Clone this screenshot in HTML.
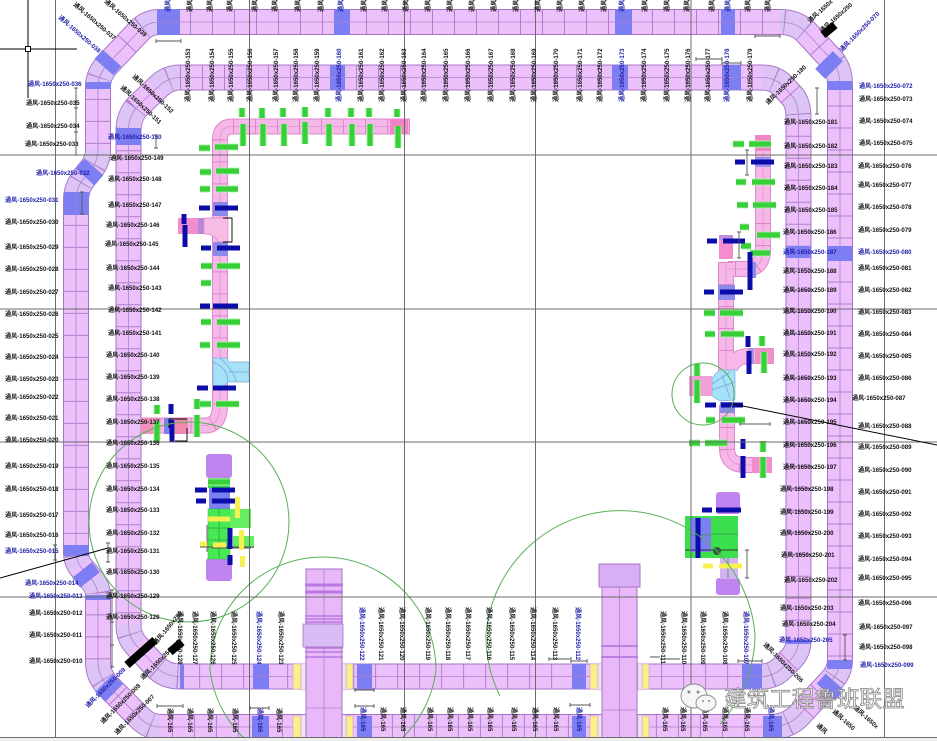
<!DOCTYPE html>
<html><head><meta charset="utf-8"><style>
html,body{margin:0;padding:0;background:#fff;width:937px;height:741px;overflow:hidden}
svg{display:block;filter:blur(.35px)}
text{font-family:"Liberation Sans","Noto Sans CJK SC",sans-serif;font-size:6.1px;fill:#111;font-weight:bold}
text.b,.b text{fill:#1c1ca8}
.o{fill:none;stroke:#a674c4;stroke-width:26}
.f{fill:none;stroke:#ecc0fa;stroke-width:24}
.l{fill:none;stroke:#dcc4f6;stroke-width:24}
.x{fill:none;stroke:#ad80cc;stroke-width:24;stroke-dasharray:1 21}
.c{fill:none;stroke:#b080cc;stroke-width:.8}
.po{fill:none;stroke:#dc88cc;stroke-width:16}
.pf{fill:none;stroke:#f6b8e8;stroke-width:14}
.px{fill:none;stroke:#e084c8;stroke-width:14;stroke-dasharray:1 21}
.pc{fill:none;stroke:#e090d0;stroke-width:.8}
.bl{fill:#7c7ef2}
.bd{fill:none;stroke:#7c7ef2;stroke-width:25}
.gg{fill:none;stroke:#b6f0b6;stroke-width:7}
.g{fill:none;stroke:#38d038;stroke-width:5.2}
.db{fill:none;stroke:#0c0ca8;stroke-width:5}
.y{fill:none;stroke:#f8f050;stroke-width:5}
.dim{fill:none;stroke:#555;stroke-width:.9}
.grid{fill:none;stroke:#6c6c6c;stroke-width:1}
.cir{fill:none;stroke:#58b058;stroke-width:1}
</style></head><body>
<svg width="937" height="741" viewBox="0 0 937 741" xmlns="http://www.w3.org/2000/svg">
<defs>
<path id="r1" d="M168 22L780 22Q796 22 806 32L830 58Q840 68 840 85L840 660Q840 672 830 682L802 712Q790 727 770 727L160 727Q148 727 138 716L108 686Q98 676 98 662L98 595Q98 588 92 580L80 566Q76 560 76 552L76 200Q76 188 84 178L92 168Q98 160 98 150L98 86Q98 76 106 66L140 30Q148 22 160 22Z"/>
<path id="r2" d="M180 77.5L762 77.5Q775 77.5 783 86L792 96Q798.5 103 798.5 118L798.5 640Q798.5 652 790 660L785 665Q775 676.5 762 676.5L180 676.5Q165 676.5 155 666L136 645Q128.5 637 128.5 625L128.5 130Q128.5 118 136 108L157 88Q167 77.5 180 77.5Z"/>
<path id="p1" d="M410 126.5L232 126.5Q220 126.5 220 140L220 405Q220 425.5 205 425.5L141 425.5"/>
<path id="p2" d="M178 226L214 226"/>
<path id="p3" d="M763 135L763 250Q763 269 745 269L728 269"/>
<path id="p4" d="M726 262L726 372"/>
<path id="p5" d="M774 356L750 356Q735 356 730 368"/>
<path id="p6" d="M727 405L727 448Q727 465 745 465L772 465"/>
<path id="gb" d="M242 108v9M262 108v10M283 108v9M305 107v10M328 108v9M351 108v9M369 108v9M397 109v8M243 124v22M263 124v22M284 124v22M305 122v22M329 124v22M352 124v22M370 124v22M398 126v22M199 148h11M215 147h23M200 172h11M216 171h23M200 189h10M216 189h22M201 266h11M217 266h23M201 283h10M217 322h23M201 322h10M217 345h23M200 345h10M200 404h11M216 404h23M197 399v10M197 415v22M157 405v9M157 421v21M733 144h11M749 144h22M736 182h10M752 182h23M737 205h11M753 205h23M740 227h9M757 235h23M741 246h10M750 253h20M704 313h11M720 313h23M705 334h10M721 334h23M762 336v10M764 352v21M697 364v12M697 380v23M706 420h9M722 420h23M689 443h11M705 443h22M763 441v11M763 457v21M208 482h22"/>
</defs>

<use href="#r1" class="o"/><use href="#r2" class="o"/>
<use href="#r1" class="f"/><use href="#r2" class="f"/>
<path class="l" d="M160 22Q148 22 140 30M106 66Q98 76 98 86M92 168Q98 160 98 150M76 200Q76 188 84 178M80 566Q76 560 76 552M98 595Q98 588 92 580M138 716Q148 727 160 727M108 686Q98 676 98 662M780 22Q796 22 806 32M830 58Q840 68 840 85M840 660Q840 672 830 682M802 712Q790 727 770 727"/>
<path class="l" d="M180 77.5Q167 77.5 157 88M136 108Q128.5 118 128.5 130M155 666Q165 676.5 180 676.5M136 645Q128.5 637 128.5 625M762 77.5Q775 77.5 783 86M792 96Q798.5 103 798.5 118M798.5 640Q798.5 652 790 660M785 665Q775 676.5 762 676.5"/>
<use href="#r1" class="x"/><use href="#r2" class="x"/>
<use href="#r1" class="c"/><use href="#r2" class="c"/>

<!-- blue duct sections -->
<g class="bl">
<rect x="157" y="9" width="23" height="26"/><rect x="334" y="9" width="16" height="26"/><rect x="615" y="9" width="17" height="26"/><rect x="721" y="9" width="14" height="26"/>
<rect x="330" y="65" width="15" height="25"/><rect x="612" y="65" width="16" height="25"/><rect x="722" y="65" width="19" height="25"/>
<rect x="64" y="192" width="25" height="23"/><rect x="64" y="545" width="25" height="11"/><rect x="86" y="82" width="25" height="7"/><rect x="116" y="128" width="25" height="17"/><rect x="86" y="595" width="25" height="5"/>
<rect x="827" y="246" width="25" height="15"/><rect x="827" y="81" width="25" height="9"/><rect x="786" y="246" width="25" height="12"/><rect x="827" y="660" width="25" height="9"/>
<rect x="786" y="640" width="25" height="4"/>
<rect x="180" y="664" width="4" height="25"/>
<rect x="357" y="664" width="15" height="25"/><rect x="572" y="664" width="14" height="25"/><rect x="742" y="664" width="20" height="25"/><rect x="253" y="664" width="16" height="25"/>
<rect x="357" y="716" width="15" height="24"/><rect x="572" y="716" width="14" height="24"/><rect x="763" y="716" width="19" height="24"/><rect x="252" y="716" width="17" height="24"/>
</g>
<path class="bd" d="M104 67L112 58M85 177L94 167M82 570L90 580M104 683L114 693M824 60L834 70"/>
<path class="bd" d="M826 692L835 682"/>
<path class="c" d="M157 22H180M334 22H350M615 22H632M721 22H735M330 77.5H345M612 77.5H628M722 77.5H741M76 192V215M357 676.5H372M572 676.5H586M742 676.5H762M253 676.5H269"/>

<!-- yellow sections -->
<path d="M293 664h8v25h-8zM346 664h7v25h-7zM590 664h8v25h-8zM642 664h7v25h-7zM293 716h8v24h-8zM346 716h7v24h-7zM590 716h8v24h-8zM642 716h7v24h-7z" fill="#fcee88" stroke="#c9a0d8" stroke-width=".6"/>
<path d="M301 663h5v27h-5zM342 663h4v27h-4zM598 663h4v27h-4zM638 663h4v27h-4zM301 715h5v25h-5zM342 715h4v25h-4zM598 715h4v25h-4zM638 715h4v25h-4z" fill="#efe4f4" stroke="#c9a0d8" stroke-width=".6"/>

<!-- vertical trunks -->
<rect x="306" y="569" width="36" height="171" fill="#e8b8f8" stroke="#a674c4"/>
<path d="M324 569V740M306 708H342" class="c"/>
<path d="M305 585H343M305 592H343" stroke="#b878e0" stroke-width="3" fill="none"/>
<path d="M305 616H343M305 619H343M305 622H343M305 648H343M305 652H343M305 657H343" stroke="#b878e0" stroke-width="1.6" fill="none"/>
<rect x="303" y="624" width="40" height="23" fill="#d8bcf4" stroke="#a674c4" stroke-width=".8"/>
<rect x="602" y="586" width="35" height="154" fill="#e8b8f8" stroke="#a674c4"/>
<path d="M619.5 586V740M602 710H637" class="c"/>
<path d="M601 646H638M601 657H638" stroke="#b878e0" stroke-width="1.8" fill="none"/>
<rect x="599" y="564" width="41" height="23" fill="#d8aef6" stroke="#a674c4"/>

<!-- left pink runs -->
<use href="#p1" class="po"/><use href="#p2" class="po"/>
<use href="#p1" class="pf"/><use href="#p2" class="pf"/>
<use href="#p1" class="px"/>
<use href="#p1" class="pc"/>
<rect x="390" y="119" width="18" height="15" fill="#f084c4"/>
<rect x="178" y="218" width="20" height="16" fill="#f48cd0"/>
<rect x="198" y="218" width="6" height="16" fill="#b888d8"/>
<path d="M204 218H228V242H218Q215 234 204 234Z" fill="#f8bce4" stroke="#dc88cc" stroke-width=".7"/>
<rect x="213" y="202" width="15" height="14" fill="#8a8ae8"/><rect x="213" y="242" width="15" height="14" fill="#8a8ae8"/>
<path d="M213 358H228V362H249V382H228L224 386H213Z" fill="#a4e2f8" stroke="#8aa8e0" stroke-width=".7"/>
<path d="M213 362Q228 368 228 382M220 358Q235 372 236 382M228 372H249" class="pc" style="stroke:#88a0e0"/>
<rect x="141" y="418" width="20" height="16" fill="#f490c0"/><rect x="164" y="418" width="9" height="16" fill="#7c7ef2"/><rect x="175" y="418" width="13" height="16" fill="#f088b0"/>
<path d="M169 419H187M169 419V428M175 441H187V428" fill="none" stroke="#000" stroke-width=".9"/>
<path d="M223 218h9v24h-9" fill="none" stroke="#000" stroke-width=".9"/>

<!-- right pink runs -->
<use href="#p3" class="po"/><use href="#p4" class="po"/><use href="#p5" class="po"/><use href="#p6" class="po"/>
<use href="#p3" class="pf"/><use href="#p4" class="pf"/><use href="#p5" class="pf"/><use href="#p6" class="pf"/>
<use href="#p3" class="px"/><use href="#p4" class="px"/><use href="#p6" class="px"/>
<use href="#p3" class="pc"/><use href="#p4" class="pc"/><use href="#p6" class="pc"/>
<rect x="755" y="135" width="16" height="16" fill="#ee88c4"/><rect x="755" y="157" width="16" height="10" fill="#9a92e8"/>
<rect x="719" y="236" width="14" height="23" fill="#f48cd0"/><rect x="719" y="235" width="14" height="5" fill="#c090e0"/>
<rect x="718" y="285" width="17" height="15" fill="#8a8ae8"/><rect x="748" y="262" width="8" height="16" fill="#8a8ae8"/>
<rect x="755" y="348" width="19" height="16" fill="#ee90c8"/><rect x="748" y="348" width="6" height="16" fill="#b090e0"/>
<path d="M719 370H735V400L720 401L712 396V378Z" fill="#a4e2f8" stroke="#8aa8e0" stroke-width=".7"/>
<path d="M712 384L730 372M712 390L735 382M722 375L730 398" class="pc" style="stroke:#88a0e0"/>
<rect x="689" y="376" width="23" height="20" fill="#f0a0d4"/>
<rect x="720" y="402" width="15" height="11" fill="#8a8ae8"/>
<rect x="752" y="457" width="20" height="16" fill="#f28ccc"/>

<!-- center-left block -->
<rect x="206" y="454" width="26" height="24" rx="3" fill="#c084f0"/><rect x="206" y="558" width="26" height="23" rx="3" fill="#c084f0"/>
<rect x="208" y="478" width="22" height="10" fill="#34dc44"/><rect x="209" y="488" width="21" height="21" fill="#7c7ef2"/>
<rect x="208" y="509" width="22" height="50" fill="#48ea54" stroke="#30b040" stroke-width=".5"/>
<rect x="230" y="509" width="21" height="19" fill="#64ee60"/><rect x="233" y="536" width="21" height="12" fill="#64ee60"/>
<path d="M208 528H230M219 509V558M208 540H230" class="pc" style="stroke:#30a040"/>
<path d="M200 547H254M207 525V552M212 548H251" class="dim"/>

<!-- right block -->
<rect x="716" y="492" width="24" height="22" rx="3" fill="#c084f0"/><rect x="716" y="578" width="24" height="17" rx="3" fill="#c084f0"/>
<rect x="720" y="557" width="18" height="22" fill="#d4b4f0"/>
<rect x="685" y="516" width="53" height="42" fill="#3ce04c"/>
<rect x="690" y="518" width="21" height="34" fill="#7c7ef2"/>
<path d="M711 534H738M690 535H711M700 518V552M728 557V578" class="pc" style="stroke:#389060"/>
<path d="M711 550H738M685 550H711" stroke="#333" stroke-width="1" fill="none"/>
<circle cx="717" cy="551" r="4" fill="#335a3a"/>

<!-- bars -->
<use href="#gb" class="gg"/><use href="#gb" class="g"/>
<path class="db" d="M199 208h11M215 208h23M201 248h10M217 248h23M200 306h10M213 306h25M197 388h11M213 388h23M171 404v10M172 420v22M184 214v10M185 225v22M195 490h12M212 490h23M196 501h10M212 501h23M230 528v21M230 555v10M735 162h10M751 162h23M707 241h10M723 241h22M750 252v38M704 292h10M720 292h23M748 336v11M749 351v23M705 405h11M721 405h22M743 439v10M743 456v22M702 510h10M716 510h25M698 518v40"/>
<path class="y" d="M208 519h22M237.500 497v21M200 544h7M213 545h13M241.500 530v20M242.500 556v11M719 566h23M703 566h10"/>
<path d="M127 665L155 640M170 652L182 642M823 35L835 25" stroke="#000" stroke-width="8" fill="none"/>

<!-- green circles -->
<circle class="cir" cx="189" cy="522" r="100"/>
<path class="cir" d="M210 670A113 113 0 0 1 436 670A113 113 0 0 1 400 740M246 740A113 113 0 0 1 210 670"/>
<path class="cir" d="M486 634A135 135 0 0 1 755 634A135 135 0 0 1 720 724M500 696A135 135 0 0 1 486 634"/>
<circle class="cir" cx="703" cy="394" r="31"/>

<!-- grid -->
<path class="grid" d="M55.500 0V740M249.500 0V740M404.500 0V740M535.500 0V740M691 0V740M884.500 0V740M0 155H937M0 309H937M0 442H937M0 597H937M0 737.500H937"/>
<rect x="0" y="738" width="937" height="3" fill="#eee"/>

<!-- crosshair and leader lines -->
<path d="M28 0V98M0 49H77" stroke="#000" stroke-width="1" fill="none"/><rect x="25.500" y="46.500" width="5" height="5" fill="#fff" stroke="#000"/>
<path d="M0 578L108 548M733 404L937 445" stroke="#000" stroke-width="1" fill="none"/>

<!-- dimensions -->
<path class="dim" d="M156 41H181M156 39v4M181 39v4M755 36H780M755 34v4M780 34v4M76 88V155M74 88h4M74 108h4M74 132h4M74 155h4M156 135V148M154 135h4M154 148h4M82 192V214M80 192h4M80 214h4M55 545V560M53 545h4M53 560h4M108 543V562M106 543h4M106 562h4M112 590V667M110 590h4M110 622h4M110 645h4M110 667h4M157 706H183M157 704v4M183 704v4M250 708H269M250 706v4M269 706v4M696 59H722M696 57v4M722 57v4M722 63H741M722 61v4M741 61v4M817 88V114M815 88h4M815 114h4M845 635V660M843 635h4M843 660h4M355 690H374M355 688v4M374 688v4M355 706H374M355 704v4M374 704v4M549 659H571M549 657v4M571 657v4M571 661H587M571 659v4M587 659v4M570 705H590M570 703v4M590 703v4M650 657H660M738 661H762M738 659v4M762 659v4M747 550V578M745 550h4M745 578h4M739 232V258M737 232h4M737 258h4M740 424H770M740 422v4M770 422v4M747 150V175M745 150h4M745 175h4M660 659H680"/>

<!-- outer-left labels -->
<g>
<text class="b" x="28" y="86">通风-1650x250-036</text><text x="26" y="105">通风-1650x250-035</text><text x="26" y="128">通风-1650x250-034</text><text x="25" y="146">通风-1650x250-033</text><text class="b" x="36" y="175">通风-1650x250-032</text><text class="b" x="5" y="202">通风-1650x250-031</text><text x="5" y="224">通风-1650x250-030</text><text x="5" y="249">通风-1650x250-029</text><text x="5" y="271">通风-1650x250-028</text><text x="5" y="294">通风-1650x250-027</text><text x="5" y="316">通风-1650x250-026</text><text x="5" y="338">通风-1650x250-025</text><text x="5" y="359">通风-1650x250-024</text><text x="5" y="381">通风-1650x250-023</text><text x="5" y="399">通风-1650x250-022</text><text x="5" y="420">通风-1650x250-021</text><text x="5" y="442">通风-1650x250-020</text><text x="5" y="468">通风-1650x250-019</text><text x="5" y="491">通风-1650x250-018</text><text x="5" y="517">通风-1650x250-017</text><text x="5" y="537">通风-1650x250-016</text><text class="b" x="5" y="553">通风-1650x250-015</text><text class="b" x="25" y="585">通风-1650x250-014</text><text class="b" x="29" y="598">通风-1650x250-013</text><text x="29" y="615">通风-1650x250-012</text><text x="29" y="637">通风-1650x250-011</text><text x="29" y="663">通风-1650x250-010</text>
<!-- inner-left -->
<text class="b" x="108" y="139">通风-1650x250-150</text><text x="110" y="160">通风-1650x250-149</text><text x="108" y="181">通风-1650x250-148</text><text x="108" y="207">通风-1650x250-147</text><text x="106" y="227">通风-1650x250-146</text><text x="105" y="246">通风-1650x250-145</text><text x="106" y="270">通风-1650x250-144</text><text x="108" y="290">通风-1650x250-143</text><text x="108" y="312">通风-1650x250-142</text><text x="108" y="335">通风-1650x250-141</text><text x="106" y="357">通风-1650x250-140</text><text x="106" y="379">通风-1650x250-139</text><text x="106" y="401">通风-1650x250-138</text><text x="106" y="424">通风-1650x250-137</text><text x="106" y="445">通风-1650x250-136</text><text x="106" y="468">通风-1650x250-135</text><text x="106" y="491">通风-1650x250-134</text><text x="106" y="512">通风-1650x250-133</text><text x="106" y="535">通风-1650x250-132</text><text x="106" y="553">通风-1650x250-131</text><text x="106" y="574">通风-1650x250-130</text><text x="106" y="598">通风-1650x250-129</text><text x="106" y="619">通风-1650x250-128</text>
<!-- inner-right -->
<text x="784" y="124">通风-1650x250-181</text><text x="784" y="148">通风-1650x250-182</text><text x="784" y="168">通风-1650x250-183</text><text x="784" y="190">通风-1650x250-184</text><text x="784" y="212">通风-1650x250-185</text><text x="783" y="234">通风-1650x250-186</text><text class="b" x="783" y="254">通风-1650x250-187</text><text x="783" y="273">通风-1650x250-188</text><text x="783" y="292">通风-1650x250-189</text><text x="783" y="313">通风-1650x250-190</text><text x="783" y="335">通风-1650x250-191</text><text x="783" y="356">通风-1650x250-192</text><text x="783" y="380">通风-1650x250-193</text><text x="783" y="402">通风-1650x250-194</text><text x="783" y="424">通风-1650x250-195</text><text x="783" y="447">通风-1650x250-196</text><text x="783" y="469">通风-1650x250-197</text><text x="780" y="491">通风-1650x250-198</text><text x="780" y="514">通风-1650x250-199</text><text x="780" y="535">通风-1650x250-200</text><text x="781" y="557">通风-1650x250-201</text><text x="784" y="582">通风-1650x250-202</text><text x="780" y="610">通风-1650x250-203</text><text x="782" y="626">通风-1650x250-204</text><text class="b" x="779" y="642">通风-1650x250-205</text>
<!-- outer-right -->
<text class="b" x="859" y="88">通风-1650x250-072</text><text x="859" y="101">通风-1650x250-073</text><text x="859" y="123">通风-1650x250-074</text><text x="859" y="145">通风-1650x250-075</text><text x="858" y="168">通风-1650x250-076</text><text x="858" y="187">通风-1650x250-077</text><text x="858" y="209">通风-1650x250-078</text><text x="858" y="232">通风-1650x250-079</text><text class="b" x="858" y="254">通风-1650x250-080</text><text x="858" y="270">通风-1650x250-081</text><text x="858" y="292">通风-1650x250-082</text><text x="858" y="314">通风-1650x250-083</text><text x="858" y="336">通风-1650x250-084</text><text x="858" y="358">通风-1650x250-085</text><text x="858" y="380">通风-1650x250-086</text><text x="852" y="400">通风-1650x250-087</text><text x="858" y="428">通风-1650x250-088</text><text x="858" y="449">通风-1650x250-089</text><text x="858" y="472">通风-1650x250-090</text><text x="858" y="494">通风-1650x250-091</text><text x="858" y="516">通风-1650x250-092</text><text x="858" y="538">通风-1650x250-093</text><text x="858" y="561">通风-1650x250-094</text><text x="858" y="580">通风-1650x250-095</text><text x="858" y="605">通风-1650x250-096</text><text x="859" y="629">通风-1650x250-097</text><text x="859" y="649">通风-1650x250-098</text><text class="b" x="860" y="667">通风-1650x250-099</text>
</g>

<!-- rotated -90: top rows -->
<g transform="rotate(-90)">
<text class="b" x="-12" y="170">通风</text><text x="-12" y="192">通风</text><text x="-12" y="212">通风</text><text x="-12" y="232">通风</text><text x="-12" y="257">通风</text><text x="-12" y="277">通风</text><text x="-12" y="300">通风</text><text x="-12" y="323">通风</text><text class="b" x="-12" y="343">通风</text><text x="-12" y="366">通风</text><text x="-12" y="387">通风</text><text x="-12" y="408">通风</text><text x="-12" y="430">通风</text><text x="-12" y="452">通风</text><text x="-12" y="474">通风</text><text x="-12" y="496">通风</text><text x="-12" y="518">通风</text><text x="-12" y="540">通风</text><text x="-12" y="562">通风</text><text x="-12" y="584">通风</text><text x="-12" y="606">通风</text><text class="b" x="-12" y="624">通风</text><text x="-12" y="647">通风</text><text x="-12" y="669">通风</text><text x="-12" y="689">通风</text><text x="-12" y="714">通风</text><text class="b" x="-12" y="730">通风</text><text x="-12" y="750">通风</text><text x="-12" y="770">通风</text>

<text x="-102" y="190">通风-1650x250-153</text><text x="-102" y="214">通风-1650x250-154</text><text x="-102" y="233">通风-1650x250-155</text><text x="-102" y="252">通风-1650x250-156</text><text x="-102" y="278">通风-1650x250-157</text><text x="-102" y="298">通风-1650x250-158</text><text x="-102" y="319">通风-1650x250-159</text><text class="b" x="-102" y="341">通风-1650x250-160</text><text x="-102" y="363">通风-1650x250-161</text><text x="-102" y="384">通风-1650x250-162</text><text x="-102" y="406">通风-1650x250-163</text><text x="-102" y="426">通风-1650x250-164</text><text x="-102" y="448">通风-1650x250-165</text><text x="-102" y="470">通风-1650x250-166</text><text x="-102" y="493">通风-1650x250-167</text><text x="-102" y="515">通风-1650x250-168</text><text x="-102" y="536">通风-1650x250-169</text><text x="-102" y="558">通风-1650x250-170</text><text x="-102" y="582">通风-1650x250-171</text><text x="-102" y="602">通风-1650x250-172</text><text class="b" x="-102" y="624">通风-1650x250-173</text><text x="-102" y="646">通风-1650x250-174</text><text x="-102" y="669">通风-1650x250-175</text><text x="-102" y="690">通风-1650x250-176</text><text x="-102" y="710">通风-1650x250-177</text><text class="b" x="-102" y="729">通风-1650x250-178</text><text x="-102" y="752">通风-1650x250-179</text>
</g>

<!-- rotated +90: bottom rows -->
<g transform="rotate(90)">
<text x="611" y="-178">通风-1650x250-128</text><text x="611" y="-193">通风-1650x250-127</text><text x="611" y="-211">通风-1650x250-126</text><text x="611" y="-232">通风-1650x250-125</text><text class="b" x="611" y="-257">通风-1650x250-124</text><text x="611" y="-279">通风-1650x250-123</text><text class="b" x="607" y="-360">通风-1650x250-122</text><text x="607" y="-379">通风-1650x250-121</text><text x="607" y="-400">通风-1650x250-120</text><text x="607" y="-426">通风-1650x250-119</text><text x="607" y="-446">通风-1650x250-118</text><text x="607" y="-466">通风-1650x250-117</text><text x="607" y="-487">通风-1650x250-116</text><text x="607" y="-510">通风-1650x250-115</text><text x="607" y="-531">通风-1650x250-114</text><text x="607" y="-553">通风-1650x250-113</text><text class="b" x="607" y="-576">通风-1650x250-112</text><text x="611" y="-661">通风-1650x250-111</text><text x="611" y="-682">通风-1650x250-110</text><text x="611" y="-701">通风-1650x250-109</text><text x="611" y="-723">通风-1650x250-108</text><text class="b" x="611" y="-744">通风-1650x250-107</text>

<text x="708" y="-168">通风-165</text><text x="708" y="-188">通风-165</text><text x="708" y="-208">通风-165</text><text x="708" y="-233">通风-165</text><text class="b" x="708" y="-258">通风-165</text><text x="708" y="-277">通风-165</text><text class="b" x="707" y="-361">通风-165</text><text x="707" y="-381">通风-165</text><text x="707" y="-401">通风-165</text><text x="707" y="-428">通风-165</text><text x="707" y="-448">通风-165</text><text x="707" y="-468">通风-165</text><text x="707" y="-488">通风-165</text><text x="707" y="-512">通风-165</text><text x="707" y="-533">通风-165</text><text x="707" y="-554">通风-165</text><text class="b" x="707" y="-577">通风-165</text><text x="707" y="-663">通风-165</text><text x="707" y="-681">通风-165</text><text x="707" y="-703">通风-165</text><text x="707" y="-723">通风-165</text><text x="707" y="-745">通风-165</text><text class="b" x="707" y="-769">通风-165</text>
</g>

<!-- diagonal labels -->
<text transform="translate(73 5) rotate(41)">通风-1650x250-037</text>
<text class="b" transform="translate(58 18) rotate(41)">通风-1650x250-038</text>
<text transform="translate(104 2) rotate(41)">通风-1650x250-039</text>
<text transform="translate(132 77) rotate(43)">通风-1650x250-152</text>
<text transform="translate(120 88) rotate(43)">通风-1650x250-151</text>
<text transform="translate(810 23) rotate(-42)">通风-1650x</text>
<text class="b" transform="translate(842 52) rotate(-45)">通风-1650x250-070</text>
<text transform="translate(822 33) rotate(-42)">通风-1650x250</text>
<text transform="translate(768 105) rotate(-44)">通风-1650x250-180</text>
<text class="b" transform="translate(88 708) rotate(-45)">通风-1650x250-009</text>
<text transform="translate(103 724) rotate(-45)">通风-1650x250-008</text>
<text transform="translate(117 735) rotate(-45)">通风-1650x250-007</text>
<text transform="translate(143 680) rotate(-45)">通风-1650x250-129</text>
<text transform="translate(156 645) rotate(-50)">通风-1650x250</text>
<text transform="translate(763 645) rotate(45)">通风-1650x250-206</text>
<text transform="translate(832 712) rotate(42)">通风-1650</text>
<text transform="translate(816 726) rotate(42)">通风</text>
<text transform="translate(853 708) rotate(42)">通风-1650x</text>

<!-- watermark -->
<g fill="#f6f6f6" stroke="#8a8a8a" stroke-width=".9">
<ellipse cx="694" cy="696" rx="13" ry="12"/><ellipse cx="706" cy="703" rx="10" ry="8"/>
</g>
<g fill="#8a8a8a"><circle cx="689" cy="692" r="1.500"/><circle cx="698" cy="692" r="1.500"/><circle cx="703" cy="701" r="1"/><circle cx="709" cy="701" r="1"/></g>
<text x="724" y="707" style="font-size:22.6px;font-weight:normal;fill:#f4f4f4;stroke:#7e7e7e;stroke-width:.7">建筑工程鲁班联盟</text>
</svg>
</body></html>
